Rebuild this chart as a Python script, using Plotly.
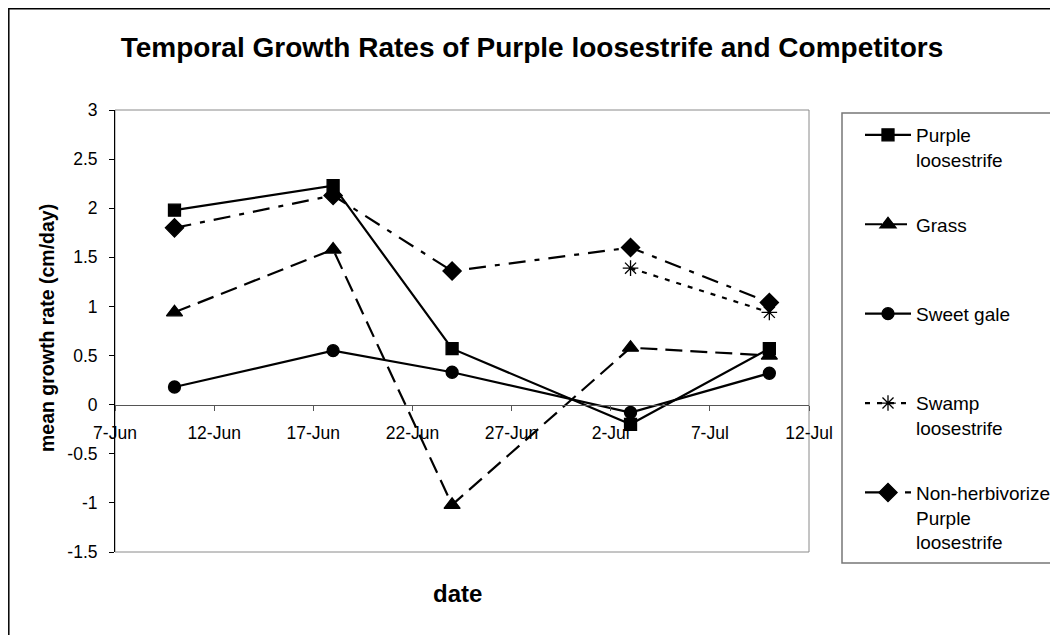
import plotly.graph_objects as go

# ---- data ----
dates = ["2007-06-10", "2007-06-18", "2007-06-24", "2007-07-03", "2007-07-10"]
purple_loosestrife = [1.98, 2.23, 0.57, -0.20, 0.57]
grass = [0.94, 1.58, -1.02, 0.58, 0.50]
sweet_gale = [0.18, 0.55, 0.33, -0.08, 0.32]
swamp_loosestrife = [None, None, None, 1.39, 0.94]
non_herbivorized = [1.80, 2.13, 1.36, 1.60, 1.04]

series_names = [
    "Purple<br>loosestrife",
    "Grass<br>&nbsp;",
    "Sweet gale<br>&nbsp;",
    "Swamp<br>loosestrife",
    "Non-herbivorized<br>Purple<br>loosestrife",
]
y_tick_vals = [-1.5, -1, -0.5, 0, 0.5, 1, 1.5, 2, 2.5, 3]
y_tick_text = ["-1.5", "-1", "-0.5", "0", "0.5", "1", "1.5", "2", "2.5", "3"]

title_text = "Temporal Growth Rates of Purple loosestrife and Competitors"
x_title = "date"
y_title = "mean growth rate (cm/day)"

styles = [
    dict(series=purple_loosestrife, symbol="square", size=12, dash="solid"),
    dict(series=grass, symbol="triangle-up", size=14, dash="17px,8px"),
    dict(series=sweet_gale, symbol="circle", size=12, dash="solid"),
    dict(series=swamp_loosestrife, symbol="asterisk-open", size=13, dash="5px,7px"),
    dict(series=non_herbivorized, symbol="diamond", size=14, dash="17px,9px,5px,9px"),
]

fig = go.Figure()
for i, (name, st) in enumerate(zip(series_names, styles)):
    fig.add_trace(go.Scatter(
        x=dates, y=st["series"], name=name, mode="lines+markers",
        legendgroup=f"g{i}",
        line=dict(color="black", width=2.2, dash=st["dash"]),
        marker=dict(symbol=st["symbol"], size=st["size"], color="black",
                    line=dict(color="black", width=1.3)),
        connectgaps=False,
    ))

# page is offset by the 8px body margin; coordinates below are figure px
OFF = 8
W, H = 1058, 635
L, T = 115 - OFF, 110 - OFF
pw, ph = 694, 442
R, B = W - L - pw, H - T - ph

def px_x(x):
    return (x - OFF - L) / pw

def px_y(y):
    return (T + ph - (y - OFF)) / ph

FONT = "Liberation Sans, Arial, sans-serif"

fig.update_layout(
    width=W, height=H,
    margin=dict(l=L, r=R, t=T, b=B, autoexpand=False),
    paper_bgcolor="white", plot_bgcolor="white",
    font=dict(family=FONT, color="black", size=17.5),
    title=dict(text=f"<b>{title_text}</b>", x=(532 - OFF) / W, xanchor="center",
               y=1 - (47 - OFF) / H, yanchor="middle",
               font=dict(size=28, family=FONT)),
    showlegend=True,
    legend=dict(
        x=px_x(860), xanchor="left", y=px_y(116), yanchor="top",
        bgcolor="rgba(0,0,0,0)", borderwidth=0, valign="top",
        font=dict(size=19, family=FONT), tracegroupgap=37, itemwidth=46,
    ),
    xaxis=dict(
        type="date", range=["2007-06-07", "2007-07-12"],
        tick0="2007-06-07", dtick=5 * 86400000, tickformat="%-d-%b",
        showgrid=False, zeroline=False,
        showline=True, linecolor="#555555", linewidth=1,
        ticks="outside", ticklen=5, tickcolor="#555555",
        anchor="free", position=1.5 / 4.5,
        ticklabelstandoff=7,
        tickfont=dict(size=17.5),
    ),
    yaxis=dict(
        range=[-1.5, 3], tickvals=y_tick_vals, ticktext=y_tick_text,
        showgrid=False, zeroline=False,
        showline=True, linecolor="black", linewidth=1,
        ticks="outside", ticklen=5, tickcolor="black",
        ticklabelstandoff=8,
        tickfont=dict(size=17.5),
    ),
    shapes=[
        dict(type="rect", xref="paper", yref="paper", x0=0, x1=1, y0=0, y1=1,
             line=dict(color="#8a8a8a", width=1), layer="below"),
        dict(type="rect", xref="paper", yref="paper",
             x0=px_x(842), x1=px_x(1120), y0=px_y(563), y1=px_y(113),
             line=dict(color="#777777", width=1.5)),
        dict(type="rect", xref="paper", yref="paper",
             x0=px_x(OFF + 0.8), x1=px_x(1120), y0=px_y(700), y1=px_y(OFF + 0.8),
             line=dict(color="black", width=1.5)),
    ],
)

fig.add_annotation(text=f"<b>{x_title}</b>", xref="paper", yref="paper",
                   x=px_x(457), y=px_y(593), showarrow=False,
                   font=dict(size=24, family=FONT), xanchor="center", yanchor="middle")
fig.add_annotation(text=f"<b>{y_title}</b>", xref="paper", yref="paper",
                   x=px_x(47), y=px_y(328), showarrow=False, textangle=-90,
                   font=dict(size=19.5, family=FONT), xanchor="center", yanchor="middle")

fig.write_html("out.html")
